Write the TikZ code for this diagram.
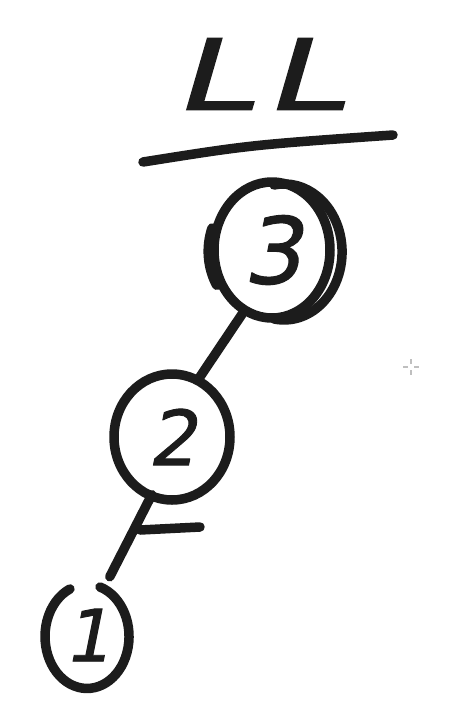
\documentclass[tikz,border=0pt]{standalone}
\usepackage{fontspec}
\newfontfamily\hand[FakeSlant=0.2,FakeBold=1.2]{DejaVu Sans}
\usetikzlibrary{shapes.geometric}
\definecolor{ink}{HTML}{1C1C1C}
\begin{document}
\begin{tikzpicture}[x=1pt,y=-1pt,
  pen/.style={line width=9.5pt, line cap=round, line join=round, draw=ink},
  ring/.style={ellipse, inner sep=0pt, text=ink},
  cursor/.style={line width=2pt, draw=black!25}]
\fill[white] (0,0) rectangle (459,713);
\useasboundingbox (0,0) rectangle (459,713);
% title
\node[text=ink, xscale=1.45] (title) at (258,74) {\hand\fontsize{98}{98}\selectfont L\kern8pt L};
\draw[pen] (143,162) .. controls (250,145) .. (393,135);
% nodes
\node[ring, pen, minimum width=116pt, minimum height=136pt] (n3) at (272,250) {\hand\fontsize{92}{92}\selectfont 3};
\node[ring, pen, minimum width=116pt, minimum height=126pt] (n2) at (172,437) {\hand\fontsize{76}{76}\selectfont 2};
\node[ring, minimum width=84pt, minimum height=104pt] (n1) at (87,635) {\hand\fontsize{72}{72}\selectfont 1};
% extra strokes of ring 3
\draw[pen] (274,185) arc[start angle=-100, end angle=100, x radius=58, y radius=68];
\draw[pen] (212,228) arc[start angle=200, end angle=150, x radius=63, y radius=68];
% ring 1 (open at top)
\draw[pen] (100,587) arc[start angle=-72, end angle=246, x radius=42, y radius=52];
% connectors
\draw[pen] (n3.245) -- (n2.65);
\draw[pen, shorten <=-6pt, shorten >=12pt] (n2.250) -- (n1.70);
\draw[pen] (140,530) -- (200,527);
% cursor
\draw[cursor] (403,367) -- (408,367) (414,367) -- (419,367) (411,359) -- (411,364) (411,370) -- (411,375);
\end{tikzpicture}
\end{document}
